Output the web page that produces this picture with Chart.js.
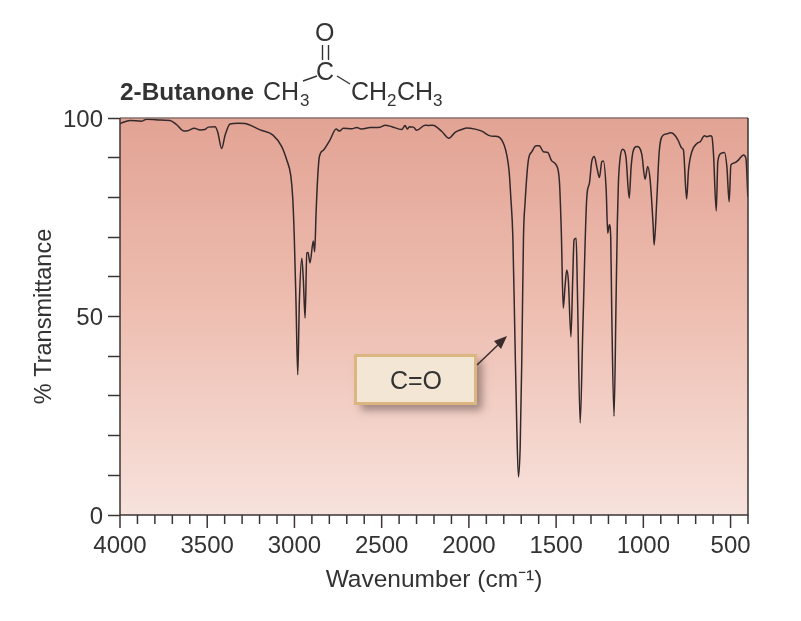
<!DOCTYPE html>
<html>
<head>
<meta charset="utf-8">
<title>2-Butanone IR</title>
<script src="https://cdn.jsdelivr.net/npm/chart.js@4"></script>
<style>
  html, body { margin: 0; padding: 0; background: #fff; }
  canvas { display: block; }
</style>
</head>
<body>
<canvas id="chartIR" width="801" height="621"></canvas>
<script>
// Trace
const wavenumbers = [
    4000, 3943, 3876, 3847, 3782, 3713, 3675, 3633, 3612, 3574, 3541, 3513, 3494, 3455, 3440, 3417,
    3398, 3369, 3322, 3283, 3197, 3123, 3073, 3044, 3021, 3010, 3001, 2991, 2981, 2972, 2958, 2949,
    2939, 2929, 2922, 2911, 2892, 2884, 2876, 2866, 2857, 2834, 2796, 2761, 2742, 2720, 2671, 2643,
    2614, 2566, 2509, 2480, 2442, 2385, 2366, 2353, 2341, 2318, 2299, 2251, 2232, 2207, 2155, 2114,
    2079, 2041, 2012, 1964, 1926, 1878, 1850, 1821, 1798, 1783, 1769, 1760, 1748, 1737, 1725, 1716,
    1706, 1697, 1687, 1678, 1659, 1639, 1615, 1596, 1573, 1548, 1525, 1500, 1481, 1470, 1459, 1449,
    1439, 1430, 1415, 1405, 1397, 1385, 1378, 1362, 1347, 1324, 1309, 1296, 1281, 1267, 1252, 1238,
    1229, 1213, 1204, 1195, 1187, 1181, 1168, 1156, 1149, 1143, 1133, 1118, 1099, 1081, 1070, 1057,
    1037, 1009, 990, 975, 961, 944, 938, 923, 909, 885, 865, 846, 827, 802, 779, 770,
    752, 741, 722, 693, 674, 650, 636, 617, 607, 598, 582, 573, 554, 535, 521, 508,
    498, 477, 455, 426, 412, 401
];
const transmittance = [
    98.6, 99.4, 99.2, 99.7, 99.5, 99.4, 98.3, 96.7, 96.8, 97.4, 97.0, 97.1, 97.7, 97.8, 96.5, 92.3,
    95.6, 98.5, 98.7, 98.6, 97.0, 95.7, 92.8, 89.4, 85.5, 80.0, 70.1, 53.4, 35.3, 53.4, 64.7, 59.2,
    49.6, 66.0, 66.1, 63.5, 69.0, 66.3, 76.1, 85.6, 90.3, 91.9, 94.5, 97.2, 96.7, 97.4, 97.3, 97.6,
    97.2, 97.6, 97.7, 98.2, 97.8, 97.1, 98.1, 97.2, 97.8, 97.7, 96.9, 98.2, 98.1, 98.2, 96.6, 94.9,
    96.4, 97.1, 97.5, 97.2, 96.7, 95.5, 95.4, 95.0, 93.2, 90.7, 86.4, 80.2, 70.1, 46.6, 21.4, 9.6,
    17.2, 38.3, 70.1, 78.6, 89.4, 91.5, 93.0, 93.0, 91.5, 91.3, 89.2, 88.2, 84.0, 71.0, 52.1, 57.5,
    61.7, 59.2, 44.9, 59.2, 69.3, 69.7, 56.7, 23.2, 46.6, 80.1, 83.6, 89.0, 90.3, 87.7, 85.0, 89.0,
    89.2, 81.9, 71.0, 73.1, 70.1, 50.9, 24.9, 55.0, 73.6, 83.6, 89.9, 92.1, 89.9, 79.8, 87.7, 91.9,
    92.8, 90.9, 84.6, 87.8, 84.4, 73.1, 68.0, 79.3, 91.5, 95.7, 96.0, 96.3, 96.0, 94.5, 92.4, 91.9,
    79.6, 86.9, 91.5, 93.6, 94.0, 95.5, 95.3, 95.5, 95.3, 91.1, 76.6, 89.0, 91.1, 91.3, 87.7, 78.9,
    88.2, 88.7, 89.4, 90.7, 89.9, 80.2
];
const xMajorLabels = [4000, 3500, 3000, 2500, 2000, 1500, 1000, 500];
const yLabels = [0, 50, 100];

const TEXT = '#333333';
const AXIS = '#3d3533';
const FONT = '"Liberation Sans", Arial, sans-serif';

// Pink gradient behind the trace
const fondoPlugin = {
    id: 'fondo',
    beforeDatasetsDraw(chart) {
        const { ctx, chartArea: a } = chart;
        const grad = ctx.createLinearGradient(0, a.top, 0, a.bottom);
        grad.addColorStop(0, '#e2a394');
        grad.addColorStop(0.5, '#eebfb2');
        grad.addColorStop(1, '#f7e2dc');
        ctx.save();
        ctx.fillStyle = grad;
        ctx.fillRect(a.left, a.top, a.right - a.left, a.bottom - a.top);
        ctx.restore();
    }
};

// Frame, x ticks, the structure above the plot and the C=O callout
const dibujoPlugin = {
    id: 'dibujo',
    afterDraw(chart) {
        const { ctx, chartArea: a, scales } = chart;
        ctx.save();

        // frame
        ctx.lineWidth = 1.5;
        ctx.strokeStyle = '#85706b';
        ctx.beginPath();
        ctx.moveTo(a.left, a.top);
        ctx.lineTo(a.right, a.top);
        ctx.stroke();
        ctx.strokeStyle = AXIS;
        ctx.beginPath();
        ctx.moveTo(a.left, a.top);
        ctx.lineTo(a.left, a.bottom);
        ctx.lineTo(a.right, a.bottom);
        ctx.lineTo(a.right, a.top);
        ctx.stroke();

        // x ticks, longer on the labelled ones
        scales.x.ticks.forEach(t => {
            const px = scales.x.getPixelForValue(t.value);
            const largo = xMajorLabels.includes(t.value) ? 13 : 9;
            ctx.beginPath();
            ctx.moveTo(px, a.bottom);
            ctx.lineTo(px, a.bottom + largo);
            ctx.stroke();
        });

        // callout box
        ctx.save();
        ctx.shadowColor = 'rgba(90,70,70,0.55)';
        ctx.shadowBlur = 8;
        ctx.shadowOffsetX = 6;
        ctx.shadowOffsetY = 6;
        ctx.fillStyle = '#f3e6d5';
        ctx.fillRect(355, 355, 121, 49);
        ctx.restore();
        ctx.strokeStyle = '#dcb680';
        ctx.lineWidth = 3;
        ctx.strokeRect(355.5, 355.5, 120, 48);
        ctx.fillStyle = TEXT;
        ctx.font = '25px ' + FONT;
        ctx.textAlign = 'center';
        ctx.textBaseline = 'alphabetic';
        ctx.fillText('C=O', 416, 389);

        // arrow
        ctx.strokeStyle = '#3a2c2c';
        ctx.fillStyle = '#3a2c2c';
        ctx.lineWidth = 1.5;
        ctx.beginPath();
        ctx.moveTo(477, 365);
        ctx.lineTo(500, 343);
        ctx.stroke();
        ctx.beginPath();
        ctx.moveTo(507, 336);
        ctx.lineTo(494, 341);
        ctx.lineTo(501, 349);
        ctx.closePath();
        ctx.fill();

        // compound name and formula
        ctx.textAlign = 'left';
        ctx.fillStyle = TEXT;
        ctx.font = 'bold 24.4px ' + FONT;
        ctx.fillText('2-Butanone', 120, 100);
        ctx.font = '25px ' + FONT;
        ctx.fillText('CH', 263, 100);
        ctx.fillText('CH', 351, 100);
        ctx.fillText('CH', 397, 100);
        ctx.fillText('C', 316, 80);
        ctx.fillText('O', 315, 41);
        ctx.font = '17px ' + FONT;
        ctx.fillText('3', 300, 106);
        ctx.fillText('2', 387, 106);
        ctx.fillText('3', 433, 106);

        ctx.strokeStyle = TEXT;
        ctx.lineWidth = 1.4;
        [[322.5, 45, 322.5, 60], [328.5, 45, 328.5, 60], [303, 81, 317, 76], [337, 76, 350, 84]].forEach(s => {
            ctx.beginPath();
            ctx.moveTo(s[0], s[1]);
            ctx.lineTo(s[2], s[3]);
            ctx.stroke();
        });

        ctx.restore();
    }
};

new Chart(document.getElementById('chartIR').getContext('2d'), {
    type: 'line',
    data: {
        datasets: [{
            data: wavenumbers.map((w, i) => ({ x: w, y: transmittance[i] })),
            borderColor: '#33282a',
            borderWidth: 1.5,
            pointRadius: 0,
            cubicInterpolationMode: 'monotone',
            fill: false
        }]
    },
    options: {
        responsive: false,
        animation: false,
        layout: { padding: { left: 0, top: 118, right: 53, bottom: 0 } },
        plugins: {
            legend: { display: false },
            tooltip: { enabled: false }
        },
        scales: {
            x: {
                type: 'linear',
                reverse: true,
                min: 400,
                max: 4000,
                afterFit: scale => { scale.height = 106; },
                grid: { display: false },
                border: { display: false },
                ticks: {
                    stepSize: 100,
                    autoSkip: false,
                    maxRotation: 0,
                    padding: 9,
                    color: TEXT,
                    font: { family: FONT, size: 24 },
                    callback: v => xMajorLabels.includes(v) ? String(v) : ''
                },
                title: {
                    display: true,
                    text: 'Wavenumber (cm⁻¹)',
                    color: TEXT,
                    font: { family: FONT, size: 24.5 },
                    padding: { top: 0, bottom: 26 }
                }
            },
            y: {
                min: 0,
                max: 100,
                afterFit: scale => { scale.width = 120; },
                grid: {
                    drawOnChartArea: false,
                    drawTicks: true,
                    tickLength: 12,
                    tickColor: AXIS,
                    tickWidth: 1.5
                },
                border: { display: false },
                ticks: {
                    stepSize: 10,
                    padding: 5,
                    labelOffset: 2,
                    color: TEXT,
                    font: { family: FONT, size: 24 },
                    callback: v => yLabels.includes(v) ? String(v) : ''
                },
                title: {
                    display: true,
                    text: '% Transmittance',
                    color: TEXT,
                    font: { family: FONT, size: 23.5 },
                    padding: { top: 30, bottom: 0 }
                }
            }
        }
    },
    plugins: [fondoPlugin, dibujoPlugin]
});
</script>
</body>
</html>
